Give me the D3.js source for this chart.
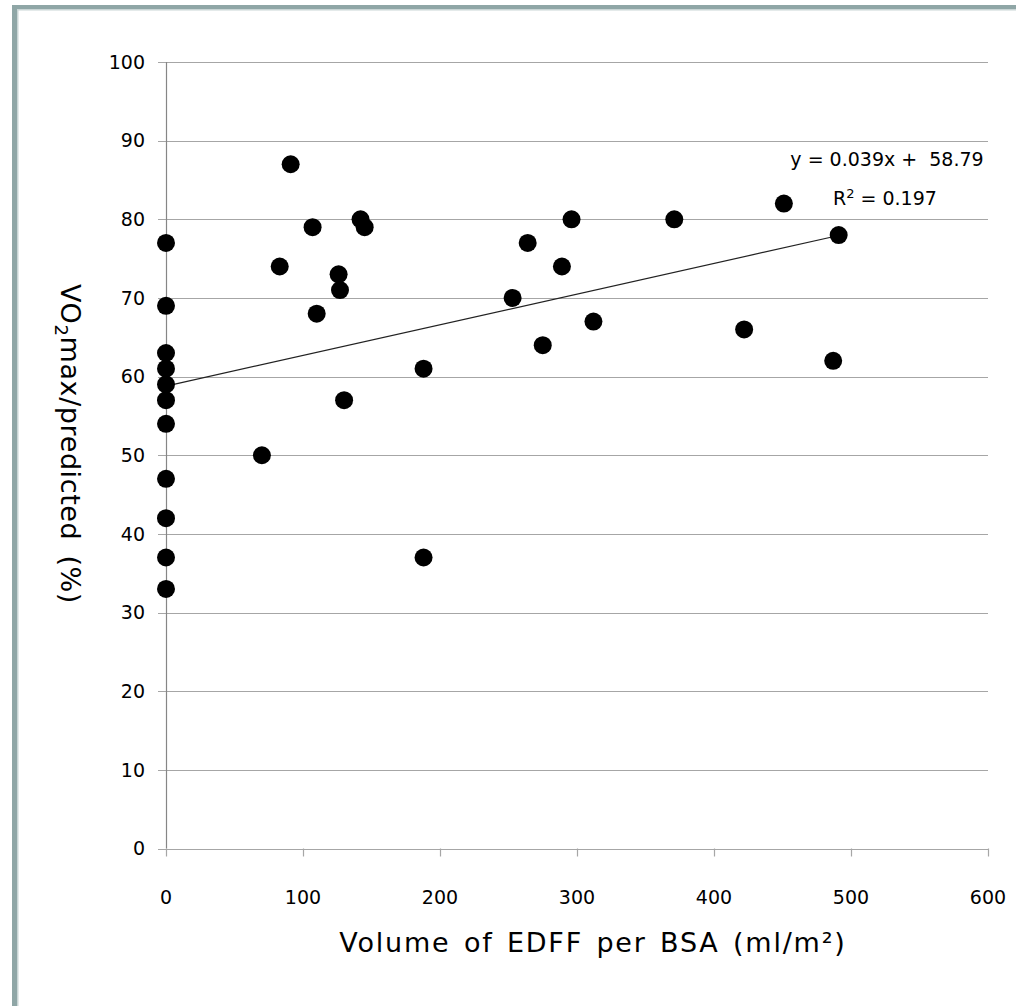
<!DOCTYPE html>
<html>
<head>
<meta charset="utf-8">
<script src="https://cdn.jsdelivr.net/npm/d3@7"></script>
<style>
  html, body { margin: 0; padding: 0; background: #ffffff; }
  svg { display: block; font-family: "DejaVu Sans", Verdana, sans-serif; }
</style>
</head>
<body>
<svg id="chart" width="1016" height="1006"></svg>
<script>
// EDFF volume per body surface area (ml/m²) for each subject
const edffVolume = [0, 0, 0, 0, 0, 0, 0, 0, 0, 0, 0,
  70, 83, 91, 107, 110, 126, 127, 130, 142, 145, 188, 188,
  253, 264, 275, 289, 296, 312, 371, 422, 451, 487, 491];
// VO2max as percentage of predicted value for the same subjects
const vo2Pct = [77, 69, 63, 61, 59, 57, 54, 47, 42, 37, 33,
  50, 74, 87, 79, 68, 73, 71, 57, 80, 79, 61, 37,
  70, 77, 64, 74, 80, 67, 80, 66, 82, 62, 78];

// Axis ticks
const xTicks = [0, 100, 200, 300, 400, 500, 600];
const yTicks = [0, 10, 20, 30, 40, 50, 60, 70, 80, 90, 100];

// Linear trend line fitted to the data
const trendSlope = 0.039;
const trendIntercept = 58.79;
const trendR2 = 0.197;

const svg = d3.select("#chart");

// Frame edges
svg.append("rect").attr("x", 12).attr("y", 5).attr("width", 1004).attr("height", 4).attr("fill", "#8fa6a6");
svg.append("rect").attr("x", 12).attr("y", 9).attr("width", 1004).attr("height", 1.5).attr("fill", "#c9d5d5");
svg.append("rect").attr("x", 12).attr("y", 5).attr("width", 5).attr("height", 1001).attr("fill", "#8fa6a6");
svg.append("rect").attr("x", 17).attr("y", 9).attr("width", 1.5).attr("height", 997).attr("fill", "#c9d5d5");

const x = d3.scaleLinear().domain([0, 600]).range([166, 988]);
const y = d3.scaleLinear().domain([0, 100]).range([848.5, 62]);

// Horizontal gridlines with left tick stubs
svg.append("g")
  .selectAll("line")
  .data(yTicks)
  .join("line")
  .attr("x1", 158).attr("x2", x(600))
  .attr("y1", d => Math.round(y(d)) + 0.5).attr("y2", d => Math.round(y(d)) + 0.5)
  .attr("stroke", "#a6a6a6").attr("stroke-width", 1.2);

// Vertical axis line
svg.append("line")
  .attr("x1", x(0) + 0.5).attr("x2", x(0) + 0.5)
  .attr("y1", y(100)).attr("y2", y(0))
  .attr("stroke", "#868686").attr("stroke-width", 1.2);

// Bottom axis ticks
svg.append("g")
  .selectAll("line")
  .data(xTicks)
  .join("line")
  .attr("x1", d => Math.round(x(d)) + 0.5).attr("x2", d => Math.round(x(d)) + 0.5)
  .attr("y1", y(0)).attr("y2", y(0) + 8)
  .attr("stroke", "#a6a6a6").attr("stroke-width", 1.2);

// Y tick labels
svg.append("g")
  .selectAll("text")
  .data(yTicks)
  .join("text")
  .attr("x", 145).attr("y", d => y(d))
  .attr("dy", "0.36em")
  .attr("text-anchor", "end")
  .attr("font-size", 19)
  .attr("fill", "#000")
  .text(d => d);

// X tick labels
svg.append("g")
  .selectAll("text")
  .data(xTicks)
  .join("text")
  .attr("x", d => x(d)).attr("y", 904)
  .attr("text-anchor", "middle")
  .attr("font-size", 19)
  .attr("fill", "#000")
  .text(d => d);

// Trend line across the observed x range
const xMin = d3.min(edffVolume), xMax = d3.max(edffVolume);
svg.append("line")
  .attr("x1", x(xMin)).attr("y1", y(trendSlope * xMin + trendIntercept))
  .attr("x2", x(xMax)).attr("y2", y(trendSlope * xMax + trendIntercept))
  .attr("stroke", "#222").attr("stroke-width", 1.2);

// Data points
svg.append("g")
  .selectAll("circle")
  .data(edffVolume.map((v, i) => [v, vo2Pct[i]]))
  .join("circle")
  .attr("cx", d => x(d[0])).attr("cy", d => y(d[1]))
  .attr("r", 9)
  .attr("fill", "#000");

// Trend equation and R²
svg.append("text")
  .attr("x", 887).attr("y", 166)
  .attr("text-anchor", "middle")
  .attr("font-size", 19)
  .attr("fill", "#000")
  .attr("xml:space", "preserve")
  .text(`y = ${trendSlope}x +  ${trendIntercept}`);
const r2Label = svg.append("text")
  .attr("x", 833).attr("y", 205)
  .attr("font-size", 19)
  .attr("fill", "#000")
  .attr("xml:space", "preserve");
r2Label.append("tspan").text("R");
r2Label.append("tspan").attr("font-size", 13).attr("dy", -7).text("2");
r2Label.append("tspan").attr("dy", 7).text(` = ${trendR2}`);

// Axis titles
svg.append("text")
  .attr("x", 593).attr("y", 952)
  .attr("text-anchor", "middle")
  .attr("font-size", 27)
  .attr("letter-spacing", 1.8)
  .attr("word-spacing", 3)
  .attr("fill", "#000")
  .text("Volume of EDFF per BSA (ml/m²)");

const yTitle = svg.append("text")
  .attr("transform", "translate(61,444) rotate(90)")
  .attr("text-anchor", "middle")
  .attr("font-size", 27)
  .attr("letter-spacing", 0.6)
  .attr("word-spacing", 6)
  .attr("fill", "#000");
yTitle.append("tspan").text("VO");
yTitle.append("tspan").attr("font-size", 18).attr("dy", 6).text("2");
yTitle.append("tspan").attr("dy", -6).text("max/predicted (%)");
</script>
</body>
</html>
